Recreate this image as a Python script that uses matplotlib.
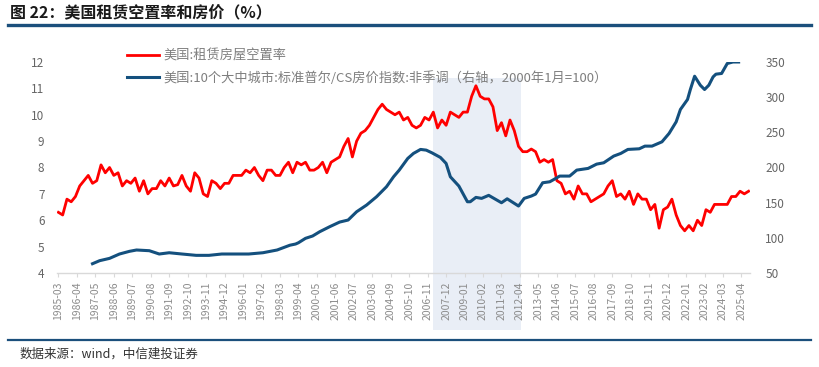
import matplotlib
matplotlib.use('Agg')
import matplotlib.pyplot as plt
import matplotlib.transforms as mtransforms
from matplotlib.lines import Line2D
from matplotlib.patches import Rectangle

plt.rcParams['font.family'] = ['Noto Sans CJK SC', 'DejaVu Sans']

# US rental vacancy rate (%), quarterly, 1985Q1 .. 2025Q3 (one row per year)
vacancy = [
    6.3, 6.2, 6.8, 6.7,   # 1985
    6.9, 7.3, 7.5, 7.7,   # 1986
    7.4, 7.5, 8.1, 7.8,   # 1987
    8.0, 7.7, 7.8, 7.3,   # 1988
    7.5, 7.4, 7.6, 7.1,   # 1989
    7.5, 7.0, 7.2, 7.2,   # 1990
    7.5, 7.3, 7.6, 7.3,   # 1991
    7.35, 7.7, 7.3, 7.1,  # 1992
    7.8, 7.6, 7.0, 6.9,   # 1993
    7.5, 7.4, 7.2, 7.4,   # 1994
    7.4, 7.7, 7.7, 7.7,   # 1995
    7.9, 7.8, 8.0, 7.7,   # 1996
    7.5, 7.9, 7.9, 7.7,   # 1997
    7.7, 8.0, 8.2, 7.8,   # 1998
    8.2, 8.1, 8.2, 7.9,   # 1999
    7.9, 8.0, 8.2, 7.8,   # 2000
    8.2, 8.3, 8.4, 8.8,   # 2001
    9.1, 8.4, 9.0, 9.3,   # 2002
    9.4, 9.6, 9.9, 10.2,  # 2003
    10.4, 10.2, 10.1, 10.0,  # 2004
    10.1, 9.8, 9.9, 9.6,  # 2005
    9.5, 9.6, 9.9, 9.8,   # 2006
    10.1, 9.5, 9.8, 9.6,  # 2007
    10.1, 10.0, 9.9, 10.1,  # 2008
    10.1, 10.7, 11.1, 10.7,  # 2009
    10.6, 10.6, 10.3, 9.4,  # 2010
    9.7, 9.2, 9.8, 9.4,   # 2011
    8.8, 8.6, 8.6, 8.7,   # 2012
    8.6, 8.2, 8.3, 8.2,   # 2013
    8.3, 7.5, 7.4, 7.0,   # 2014
    7.1, 6.8, 7.3, 7.0,   # 2015
    7.0, 6.7, 6.8, 6.9,   # 2016
    7.0, 7.3, 7.5, 6.9,   # 2017
    7.0, 6.8, 7.1, 6.6,   # 2018
    7.0, 6.8, 6.8, 6.4,   # 2019
    6.6, 5.7, 6.4, 6.5,   # 2020
    6.8, 6.2, 5.8, 5.6,   # 2021
    5.8, 5.6, 6.0, 5.8,   # 2022
    6.4, 6.3, 6.6, 6.6,   # 2023
    6.6, 6.6, 6.9, 6.9,   # 2024
    7.1, 7.0, 7.1,        # 2025
]

# S&P/Case-Shiller 10-city index (2000-01 = 100)
cs_dates = ['1987-03', '1987-08', '1988-03', '1988-10', '1989-05', '1989-10',
            '1990-07', '1991-02', '1991-09', '1992-06', '1993-04', '1994-01',
            '1994-10', '1995-08', '1996-05', '1997-03', '1998-01', '1998-10',
            '1999-02', '1999-04', '1999-09', '2000-02', '2000-07', '2001-02',
            '2001-09', '2002-03', '2002-09', '2003-04', '2003-11', '2004-06',
            '2004-11', '2005-03', '2005-09', '2006-01', '2006-06', '2006-10',
            '2007-02', '2007-08', '2007-12', '2008-03', '2008-09', '2009-03',
            '2009-05', '2009-09', '2010-01', '2010-06', '2011-03', '2011-07',
            '2012-03', '2012-07', '2012-12', '2013-03', '2013-08', '2014-01',
            '2014-04', '2014-08', '2015-03', '2015-08', '2016-04', '2016-10',
            '2017-03', '2017-10', '2018-03', '2018-08', '2019-04', '2019-08',
            '2020-01', '2020-08', '2021-01', '2021-06', '2021-09', '2022-02',
            '2022-04', '2022-07', '2022-11', '2023-02', '2023-05', '2023-08',
            '2023-10', '2024-02', '2024-06', '2024-10', '2025-02']
cs_values = [63.2, 67.5, 70.8, 77.0, 80.8, 82.7,
             81.7, 77.0, 78.8, 77.0, 75.1, 75.1,
             77.0, 77.0, 77.0, 78.8, 82.7, 89.5,
             91.2, 93.0, 99.3, 102.6, 108.7, 115.8,
             122.4, 125.3, 137.1, 146.6, 158.4, 172.6,
             186.8, 196.3, 212.9, 220.0, 225.7, 224.7,
             220.9, 214.3, 205.8, 186.8, 173.6, 151.3,
             151.3, 157.5, 156.1, 160.4, 149.9, 155.5,
             145.2, 156.1, 159.4, 162.2, 178.3, 179.7,
             183.1, 187.8, 187.8, 196.3, 198.7, 204.8,
             206.7, 216.2, 220.0, 225.7, 226.6, 230.4,
             230.4, 236.5, 248.4, 264.9, 282.5, 296.7,
             310.9, 329.8, 317.0, 310.9, 317.0, 328.8,
             332.7, 333.7, 347.9, 350.0, 350.0]

xtick_labels = ['1985-03', '1986-04', '1987-05', '1988-06', '1989-07', '1990-08',
                '1991-09', '1992-10', '1993-11', '1994-12', '1996-01', '1997-02',
                '1998-03', '1999-04', '2000-05', '2001-06', '2002-07', '2003-08',
                '2004-09', '2005-10', '2006-11', '2007-12', '2009-01', '2010-02',
                '2011-03', '2012-04', '2013-05', '2014-06', '2015-07', '2016-08',
                '2017-09', '2018-10', '2019-11', '2020-12', '2022-01', '2023-02',
                '2024-03', '2025-04']

shade_span = ('2007-03', '2012-05')

label_red = '美国:租赁房屋空置率'
label_blue = '美国:10个大中城市:标准普尔/CS房价指数:非季调（右轴，2000年1月=100）'


def month_idx(s):
    y, m = s.split('-')
    return (int(y) - 1985) * 12 + int(m) - 3


red_x = [3 * i for i in range(len(vacancy))]
blue_x = [month_idx(d) for d in cs_dates]
tick_x = [month_idx(d) for d in xtick_labels]

W, H = 819, 367
fig = plt.figure(figsize=(W / 100, H / 100), dpi=100)
ax = fig.add_axes([57 / W, 1 - 273 / H, 693 / W, 211 / H])
ax.patch.set_visible(False)
ax2 = ax.twinx()

red = '#FF0000'
blue = '#14507E'

ax.plot(red_x, vacancy, color=red, lw=2.0, zorder=3)
ax2.plot(blue_x, cs_values, color=blue, lw=2.2, zorder=3)

ax.set_xlim(-1, 487)
ax.set_ylim(4, 12)
ax2.set_ylim(50, 350)
ax.set_yticks(range(4, 13))
ax2.set_yticks(range(50, 351, 50))

ax.set_xticks(tick_x)
ax.set_xticklabels(xtick_labels, rotation=90)

for a in (ax, ax2):
    for s in a.spines.values():
        s.set_visible(False)
ax.spines['bottom'].set_visible(True)
ax.spines['bottom'].set_color('#d9d9d9')
ax.spines['bottom'].set_linewidth(1.0)

ax.tick_params(axis='x', direction='out', length=3, color='#d9d9d9',
               labelcolor='#8c8c8c', labelsize=7.5, pad=3)
ax.tick_params(axis='y', length=0, labelcolor='#666666', labelsize=8.5, pad=9)
ax2.tick_params(axis='y', length=0, labelcolor='#666666', labelsize=8.5, pad=11)

# shaded crisis period, reaching down over the date labels
trans = mtransforms.blended_transform_factory(ax.transData, ax.transAxes)
x0, x1 = month_idx(shade_span[0]), month_idx(shade_span[1])
ax.add_patch(Rectangle((x0, -0.27), x1 - x0, 0.27 + 0.925, transform=trans,
                       facecolor='#E9EEF6', edgecolor='none', clip_on=False, zorder=0))

handles = [Line2D([], [], color=red, lw=2.0), Line2D([], [], color=blue, lw=2.2)]
leg = fig.legend(handles, [label_red, label_blue], loc='upper left',
                 bbox_to_anchor=(127 / W, 1 - 50 / H), frameon=False,
                 fontsize=9.5, handlelength=2.4, handletextpad=0.4,
                 labelspacing=0.6, borderpad=0, borderaxespad=0)
for t in leg.get_texts():
    t.set_color('#7f7f7f')

# header and footer
fig.text(10 / W, 1 - 12 / H, '图 22：美国租赁空置率和房价（%）', fontsize=11.5,
         fontweight='bold', va='center', ha='left', color='#1a1a1a')
fig.add_artist(Line2D([8 / W, 811 / W], [1 - 25 / H] * 2, color='#1B4F7C', lw=2.4))
fig.add_artist(Line2D([8 / W, 811 / W], [1 - 340 / H] * 2, color='#1B4F7C', lw=1.6))
fig.text(20 / W, 1 - 354 / H, '数据来源：wind，中信建投证券', fontsize=9,
         style='italic', va='center', ha='left', color='#333333')

fig.savefig('out.png', dpi=100)
